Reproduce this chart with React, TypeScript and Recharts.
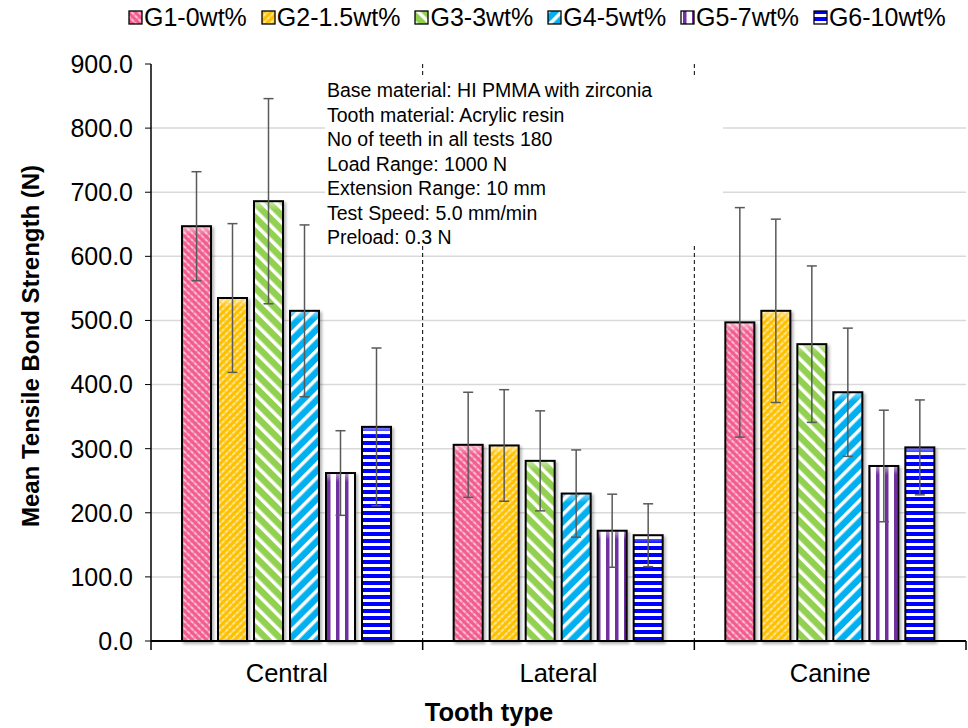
import React from "react";
import {
  BarChart,
  Bar,
  XAxis,
  YAxis,
  CartesianGrid,
  ErrorBar,
} from "recharts";

const categories = ["Central", "Lateral", "Canine"];
const groupNames = ["G1-0wt%", "G2-1.5wt%", "G3-3wt%", "G4-5wt%", "G5-7wt%", "G6-10wt%"];

// mean tensile bond strength (N) per tooth type
const g1Mean = [647, 306, 497];
const g2Mean = [535, 305, 515];
const g3Mean = [686, 281, 463];
const g4Mean = [515, 230, 388];
const g5Mean = [262, 172, 273];
const g6Mean = [334, 165, 302];

// standard deviations (error bars)
const g1Sd = [85, 82, 179];
const g2Sd = [116, 87, 143];
const g3Sd = [160, 78, 122];
const g4Sd = [134, 68, 100];
const g5Sd = [66, 57, 87];
const g6Sd = [123, 49, 74];

const yTicks = [0, 100, 200, 300, 400, 500, 600, 700, 800, 900];
const gridValues = [100, 200, 300, 400, 500, 600, 700, 800];

const notes = [
  "Base material: HI PMMA with zirconia",
  "Tooth material: Acrylic resin",
  "No of teeth in all tests 180",
  "Load Range: 1000 N",
  "Extension Range: 10 mm",
  "Test Speed: 5.0 mm/min",
  "Preload: 0.3 N",
];

const means = [g1Mean, g2Mean, g3Mean, g4Mean, g5Mean, g6Mean];
const sds = [g1Sd, g2Sd, g3Sd, g4Sd, g5Sd, g6Sd];

const data = categories.map((name, i) => {
  const row: Record<string, any> = { name };
  means.forEach((m, k) => {
    row["g" + (k + 1)] = m[i];
    row["e" + (k + 1)] = sds[k][i];
  });
  return row;
});

const FONT = "Arial, 'Liberation Sans', sans-serif";

function Patterns() {
  return (
    <svg width={0} height={0} style={{ position: "absolute" }}>
      <defs>
        <pattern id="p1" width="5" height="5" patternUnits="userSpaceOnUse" patternTransform="rotate(-45)">
          <rect width="5" height="5" fill="#f25c8f" />
          <line x1="1" y1="0" x2="1" y2="5" stroke="#fff" strokeWidth="1.2" strokeDasharray="2.5 1" />
        </pattern>
        <pattern id="p2" width="5" height="5" patternUnits="userSpaceOnUse" patternTransform="rotate(45)">
          <rect width="5" height="5" fill="#ffc000" />
          <line x1="1" y1="0" x2="1" y2="5" stroke="#fff" strokeWidth="1.2" strokeDasharray="2.5 1" />
        </pattern>
        <pattern id="p3" width="10" height="10" patternUnits="userSpaceOnUse" patternTransform="rotate(-45)">
          <rect width="10" height="10" fill="#92d050" />
          <rect x="0" width="3.5" height="10" fill="#fff" />
        </pattern>
        <pattern id="p4" width="10" height="10" patternUnits="userSpaceOnUse" patternTransform="rotate(45)">
          <rect width="10" height="10" fill="#00b0f0" />
          <rect x="0" width="3.5" height="10" fill="#fff" />
        </pattern>
        <pattern id="p5" width="9" height="9" patternUnits="userSpaceOnUse">
          <rect width="9" height="9" fill="#fff" />
          <rect x="3" width="3.5" height="9" fill="#7030a0" />
        </pattern>
        <pattern id="p6" width="7" height="7" patternUnits="userSpaceOnUse">
          <rect width="7" height="7" fill="#fff" />
          <rect y="0" width="7" height="4" fill="#0000ff" />
        </pattern>
        <linearGradient id="bevel" x1="0" y1="0" x2="0" y2="1">
          <stop offset="0" stopColor="#fff" stopOpacity="0.55" />
          <stop offset="1" stopColor="#fff" stopOpacity="0" />
        </linearGradient>
      </defs>
    </svg>
  );
}

function LegendRow() {
  return (
    <div
      style={{
        position: "absolute",
        left: 128,
        top: 3,
        display: "flex",
        alignItems: "center",
        gap: 14,
        fontFamily: FONT,
        fontSize: 25,
        color: "#000",
        whiteSpace: "nowrap",
      }}
    >
      {groupNames.map((g, i) => (
        <div key={g} style={{ display: "flex", alignItems: "center" }}>
          <svg width={15} height={15} style={{ marginRight: 1 }}>
            <rect x={1} y={1} width={13} height={13} fill={`url(#p${i + 1})`} stroke="#000" strokeWidth={1.3} />
          </svg>
          <span>{g}</span>
        </div>
      ))}
    </div>
  );
}

// bar with pattern fill, black outline and a light strip along its top
function PatternBar(props: any) {
  const { x, y, width, height, fill } = props;
  if (!height || height <= 0) return null;
  return (
    <g style={{ filter: "drop-shadow(2px 2px 1.5px rgba(0,0,0,0.3))" }}>
      <rect x={x} y={y} width={width} height={height} fill={fill} />
      <rect x={x} y={y} width={width} height={Math.min(9, height)} fill="url(#bevel)" />
      <rect x={x} y={y} width={width} height={height} fill="none" stroke="#000" strokeWidth={2} />
    </g>
  );
}

// category tick: label plus a boundary tick mark at each band edge
function CategoryTick(props: any) {
  const { x, y, payload, index, width } = props;
  const half = payload && payload.offset ? payload.offset : width / (2 * categories.length);
  const axisY = y - 6 - 17;
  return (
    <g>
      <line x1={x - half} y1={axisY} x2={x - half} y2={axisY + 9} stroke="#000" strokeWidth={1.5} />
      {index === categories.length - 1 && (
        <line x1={x + half} y1={axisY} x2={x + half} y2={axisY + 9} stroke="#000" strokeWidth={1.5} />
      )}
      <text x={x} y={y} dy="0.71em" textAnchor="middle" fontSize={25.5} fontFamily={FONT} fill="#000">
        {payload.value}
      </text>
    </g>
  );
}

// dashed dividers between tooth-type groups, at the band edges
const dividerCoords = ({ offset }: any) =>
  categories.slice(1).map((_, k) => offset.left + (offset.width * (k + 1)) / categories.length);

export default function App() {
  return (
    <div
      style={{
        position: "absolute",
        left: 0,
        top: 0,
        width: 968,
        height: 728,
        background: "#fff",
        fontFamily: FONT,
      }}
    >
      <Patterns />
      <LegendRow />
      <BarChart
        width={968}
        height={728}
        data={data}
        margin={{ top: 64, right: 2, bottom: 0, left: 0 }}
        barCategoryGap={31}
        barGap={7}
      >
        <CartesianGrid vertical={false} horizontalValues={gridValues} stroke="#d9d9d9" strokeWidth={1.5} />
        <CartesianGrid
          horizontal={false}
          verticalCoordinatesGenerator={dividerCoords}
          stroke="#000"
          strokeWidth={1}
          strokeDasharray="4 3"
        />
        <XAxis
          dataKey="name"
          height={87}
          tickLine={false}
          tickSize={6}
          tickMargin={17}
          interval={0}
          axisLine={{ stroke: "#000", strokeWidth: 2 }}
          tick={<CategoryTick />}
          label={{
            content: () => (
              <text
                x={489}
                y={721}
                textAnchor="middle"
                fontSize={25.5}
                fontWeight="bold"
                fontFamily={FONT}
                fill="#000"
              >
                Tooth type
              </text>
            ),
          }}
        />
        <YAxis
          width={151}
          domain={[0, 900]}
          ticks={yTicks}
          interval={0}
          tickFormatter={(v) => Number(v).toFixed(1)}
          tickSize={6}
          tickMargin={12}
          tickLine={{ stroke: "#000" }}
          axisLine={{ stroke: "#000", strokeWidth: 1.5 }}
          tick={{ fill: "#000", fontSize: 25, fontFamily: FONT }}
          label={{
            content: () => (
              <text
                x={30}
                y={346}
                transform="rotate(-90 30 346)"
                textAnchor="middle"
                dominantBaseline="central"
                fontSize={24}
                fontWeight="bold"
                fontFamily={FONT}
                fill="#000"
              >
                Mean Tensile Bond Strength (N)
              </text>
            ),
          }}
        />
        {groupNames.map((g, i) => (
          <Bar
            key={g}
            dataKey={"g" + (i + 1)}
            name={g}
            fill={`url(#p${i + 1})`}
            shape={<PatternBar />}
            isAnimationActive={false}
          >
            <ErrorBar
              dataKey={"e" + (i + 1)}
              width={5}
              stroke="#595959"
              strokeWidth={1.5}
              direction="y"
              isAnimationActive={false}
            />
          </Bar>
        ))}
      </BarChart>
      <div
        style={{
          position: "absolute",
          left: 325,
          top: 78,
          width: 398,
          height: 168,
          background: "#fff",
          paddingLeft: 2,
          boxSizing: "border-box",
          fontFamily: FONT,
          fontSize: 19.5,
          lineHeight: "24.5px",
          color: "#000",
          whiteSpace: "nowrap",
        }}
      >
        {notes.map((n) => (
          <div key={n}>{n}</div>
        ))}
      </div>
    </div>
  );
}
